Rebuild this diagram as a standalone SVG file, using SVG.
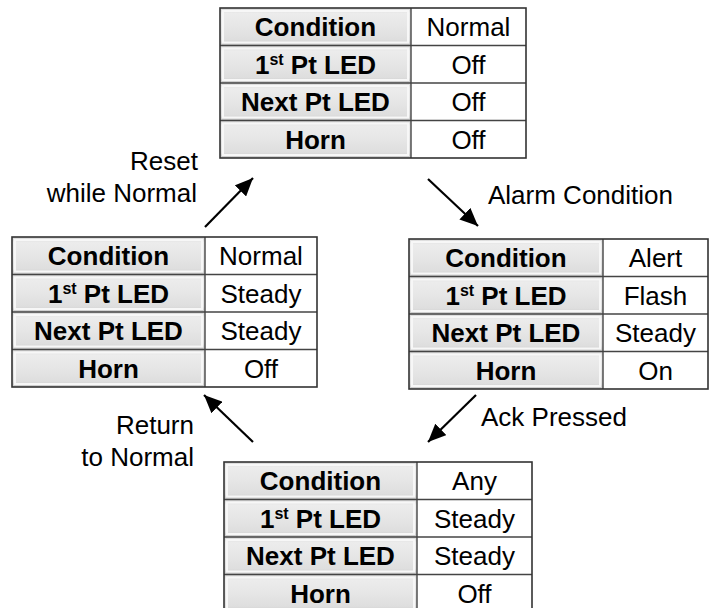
<svg xmlns="http://www.w3.org/2000/svg" width="711" height="608" viewBox="0 0 711 608">
<style>
text{font-family:"Liberation Sans",Arial,sans-serif;font-size:26px;fill:#000;}
.lb{font-weight:bold;text-anchor:middle;}
.vl{text-anchor:middle;}
.sup{font-size:16px;}
.cell{fill:url(#g);stroke:none;}
.bev{fill:none;stroke:#f7f7f7;stroke-width:2;}
.val{fill:#fff;stroke:none;}
.frame{fill:none;stroke:#333;stroke-width:1.6;}
.div{stroke:#444;stroke-width:1.4;}
.conn{stroke:#000;stroke-width:2.2;fill:none;marker-end:url(#ah);}
.lab{font-size:26px;}
</style>
<defs>
<linearGradient id="g" x1="0" y1="0" x2="0" y2="1">
<stop offset="0" stop-color="#d9d9d9"/>
<stop offset="0.15" stop-color="#ececec"/>
<stop offset="0.5" stop-color="#e6e6e6"/>
<stop offset="0.85" stop-color="#dedede"/>
<stop offset="1" stop-color="#c9c9c9"/>
</linearGradient>
<marker id="ah" markerUnits="userSpaceOnUse" markerWidth="20" markerHeight="16" refX="18" refY="8" orient="auto">
<path d="M0,0 L18,8 L0,16 Z" fill="#000"/>
</marker>
</defs>

<g id="state-normal">
<rect class="val" x="411" y="8" width="115" height="150"/>
<rect class="cell" x="220" y="8" width="191" height="37.5"/>
<rect class="cell" x="220" y="45.5" width="191" height="37.5"/>
<rect class="cell" x="220" y="83" width="191" height="37.5"/>
<rect class="cell" x="220" y="120.5" width="191" height="37.5"/>
<rect class="bev" x="223" y="11" width="185" height="31.5"/>
<rect class="bev" x="223" y="48.5" width="185" height="31.5"/>
<rect class="bev" x="223" y="86" width="185" height="31.5"/>
<rect class="bev" x="223" y="123.5" width="185" height="31.5"/>
<line class="div" x1="220" y1="45.5" x2="526" y2="45.5"/>
<line class="div" x1="220" y1="83" x2="526" y2="83"/>
<line class="div" x1="220" y1="120.5" x2="526" y2="120.5"/>
<line class="div" x1="411" y1="8" x2="411" y2="158"/>
<rect class="frame" x="220" y="8" width="306" height="150"/>
<text class="lb" x="315.5" y="36">Condition</text>
<text class="lb" x="315.5" y="73.5">1<tspan class="sup" dy="-9">st</tspan><tspan dy="9"> Pt LED</tspan></text>
<text class="lb" x="315.5" y="111">Next Pt LED</text>
<text class="lb" x="315.5" y="148.5">Horn</text>
<text class="vl" x="468.5" y="36">Normal</text>
<text class="vl" x="468.5" y="73.5">Off</text>
<text class="vl" x="468.5" y="111">Off</text>
<text class="vl" x="468.5" y="148.5">Off</text>
</g>

<g id="state-reset">
<rect class="val" x="205" y="237" width="112" height="150"/>
<rect class="cell" x="12" y="237" width="193" height="37.5"/>
<rect class="cell" x="12" y="274.5" width="193" height="37.5"/>
<rect class="cell" x="12" y="312" width="193" height="37.5"/>
<rect class="cell" x="12" y="349.5" width="193" height="37.5"/>
<rect class="bev" x="15" y="240" width="187" height="31.5"/>
<rect class="bev" x="15" y="277.5" width="187" height="31.5"/>
<rect class="bev" x="15" y="315" width="187" height="31.5"/>
<rect class="bev" x="15" y="352.5" width="187" height="31.5"/>
<line class="div" x1="12" y1="274.5" x2="317" y2="274.5"/>
<line class="div" x1="12" y1="312" x2="317" y2="312"/>
<line class="div" x1="12" y1="349.5" x2="317" y2="349.5"/>
<line class="div" x1="205" y1="237" x2="205" y2="387"/>
<rect class="frame" x="12" y="237" width="305" height="150"/>
<text class="lb" x="108.5" y="265">Condition</text>
<text class="lb" x="108.5" y="302.5">1<tspan class="sup" dy="-9">st</tspan><tspan dy="9"> Pt LED</tspan></text>
<text class="lb" x="108.5" y="340">Next Pt LED</text>
<text class="lb" x="108.5" y="377.5">Horn</text>
<text class="vl" x="261" y="265">Normal</text>
<text class="vl" x="261" y="302.5">Steady</text>
<text class="vl" x="261" y="340">Steady</text>
<text class="vl" x="261" y="377.5">Off</text>
</g>

<g id="state-alert">
<rect class="val" x="603" y="239" width="105" height="150"/>
<rect class="cell" x="409" y="239" width="194" height="37.5"/>
<rect class="cell" x="409" y="276.5" width="194" height="37.5"/>
<rect class="cell" x="409" y="314" width="194" height="37.5"/>
<rect class="cell" x="409" y="351.5" width="194" height="37.5"/>
<rect class="bev" x="412" y="242" width="188" height="31.5"/>
<rect class="bev" x="412" y="279.5" width="188" height="31.5"/>
<rect class="bev" x="412" y="317" width="188" height="31.5"/>
<rect class="bev" x="412" y="354.5" width="188" height="31.5"/>
<line class="div" x1="409" y1="276.5" x2="708" y2="276.5"/>
<line class="div" x1="409" y1="314" x2="708" y2="314"/>
<line class="div" x1="409" y1="351.5" x2="708" y2="351.5"/>
<line class="div" x1="603" y1="239" x2="603" y2="389"/>
<rect class="frame" x="409" y="239" width="299" height="150"/>
<text class="lb" x="506" y="267">Condition</text>
<text class="lb" x="506" y="304.5">1<tspan class="sup" dy="-9">st</tspan><tspan dy="9"> Pt LED</tspan></text>
<text class="lb" x="506" y="342">Next Pt LED</text>
<text class="lb" x="506" y="379.5">Horn</text>
<text class="vl" x="655.5" y="267">Alert</text>
<text class="vl" x="655.5" y="304.5">Flash</text>
<text class="vl" x="655.5" y="342">Steady</text>
<text class="vl" x="655.5" y="379.5">On</text>
</g>

<g id="state-ack">
<rect class="val" x="417" y="462" width="115" height="150"/>
<rect class="cell" x="224" y="462" width="193" height="37.5"/>
<rect class="cell" x="224" y="499.5" width="193" height="37.5"/>
<rect class="cell" x="224" y="537" width="193" height="37.5"/>
<rect class="cell" x="224" y="574.5" width="193" height="37.5"/>
<rect class="bev" x="227" y="465" width="187" height="31.5"/>
<rect class="bev" x="227" y="502.5" width="187" height="31.5"/>
<rect class="bev" x="227" y="540" width="187" height="31.5"/>
<rect class="bev" x="227" y="577.5" width="187" height="31.5"/>
<line class="div" x1="224" y1="499.5" x2="532" y2="499.5"/>
<line class="div" x1="224" y1="537" x2="532" y2="537"/>
<line class="div" x1="224" y1="574.5" x2="532" y2="574.5"/>
<line class="div" x1="417" y1="462" x2="417" y2="612"/>
<rect class="frame" x="224" y="462" width="308" height="150"/>
<text class="lb" x="320.5" y="490">Condition</text>
<text class="lb" x="320.5" y="527.5">1<tspan class="sup" dy="-9">st</tspan><tspan dy="9"> Pt LED</tspan></text>
<text class="lb" x="320.5" y="565">Next Pt LED</text>
<text class="lb" x="320.5" y="602.5">Horn</text>
<text class="vl" x="474.5" y="490">Any</text>
<text class="vl" x="474.5" y="527.5">Steady</text>
<text class="vl" x="474.5" y="565">Steady</text>
<text class="vl" x="474.5" y="602.5">Off</text>
</g>

<g id="connectors">
<line class="conn" x1="205" y1="227" x2="253" y2="178"/>
<line class="conn" x1="428" y1="179" x2="478" y2="226"/>
<line class="conn" x1="476" y1="395" x2="428" y2="442"/>
<line class="conn" x1="253" y1="442" x2="204" y2="395"/>
</g>

<g id="labels">
<text class="lab" x="198" y="170" text-anchor="end">Reset</text>
<text class="lab" x="197" y="202" text-anchor="end">while Normal</text>
<text class="lab" x="488" y="204">Alarm Condition</text>
<text class="lab" x="481" y="426">Ack Pressed</text>
<text class="lab" x="194" y="434" text-anchor="end">Return</text>
<text class="lab" x="194" y="466" text-anchor="end">to Normal</text>
</g>
</svg>
